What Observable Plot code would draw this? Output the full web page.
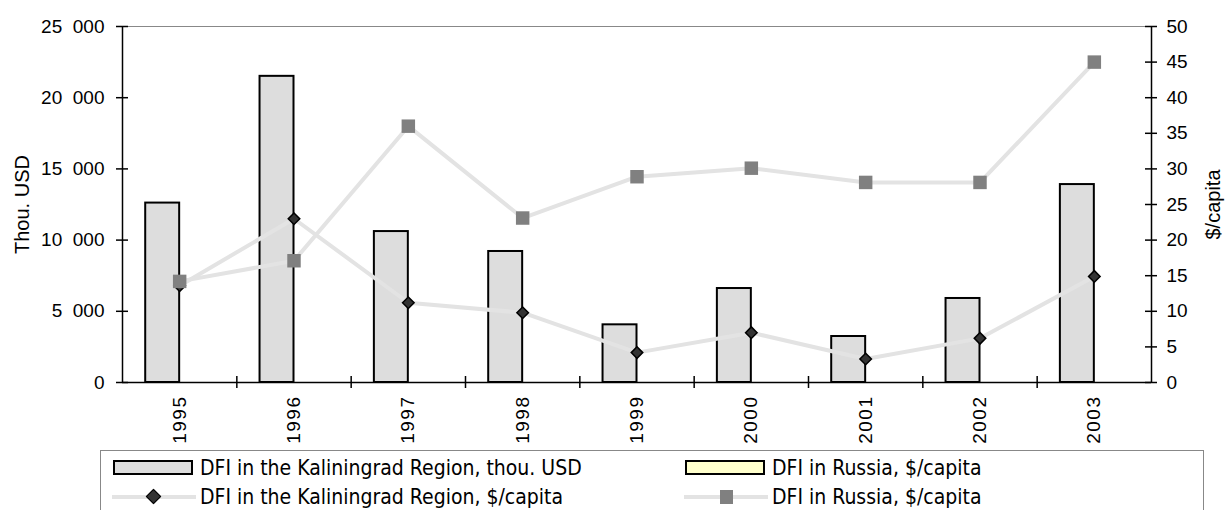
<!DOCTYPE html>
<html>
<head>
<meta charset="utf-8">
<script src="https://cdn.jsdelivr.net/npm/d3@7"></script>
<script src="https://cdn.jsdelivr.net/npm/@observablehq/plot@0.6"></script>
<style>
  html, body { margin: 0; padding: 0; background: #fff; overflow: hidden; }
  #wrap { position: relative; width: 1225px; height: 510px; }
  #chart svg { display: block; }
  [aria-label="x-axis tick label"] text { letter-spacing: 1.5px; }
  .legend-box { position: absolute; left: 100px; top: 450px; width: 1104px; height: 90px;
    border: 1px solid #888; box-sizing: border-box; }
  .item { position: absolute; height: 28px; display: flex; align-items: center;
    font-family: "Liberation Sans Narrow", "Arial Narrow", "DejaVu Sans Condensed", sans-serif;
    font-size: 21px; color: #000; white-space: nowrap; }
  .sym { position: relative; width: 84px; height: 28px; margin-right: 4px; flex: none; }
  .box { position: absolute; left: 1px; top: 6px; width: 80px; height: 15px; box-sizing: border-box; border: 2px solid #000; }
  .ln { position: absolute; left: 0; top: 12px; width: 84px; height: 4px; background: #e3e3e3; }
  .dia { position: absolute; left: 36px; top: 8px; width: 9px; height: 9px; background: #333; border: 1.5px solid #000; transform: rotate(45deg); }
  .sq { position: absolute; left: 36px; top: 7px; width: 13px; height: 14px; background: #808080; }
</style>
</head>
<body>
<div id="wrap">
  <div id="chart"></div>
  <div class="legend-box"></div>
  <div class="item" style="left:112px; top:454px;"><div class="sym"><div class="box" style="background:#dddddd"></div></div>DFI in the Kaliningrad Region, thou. USD</div>
  <div class="item" style="left:684px; top:454px;"><div class="sym"><div class="box" style="background:#ffffcc"></div></div>DFI in Russia, $/capita</div>
  <div class="item" style="left:112px; top:483px;"><div class="sym"><div class="ln"></div><div class="dia"></div></div>DFI in the Kaliningrad Region, $/capita</div>
  <div class="item" style="left:684px; top:483px;"><div class="sym"><div class="ln"></div><div class="sq"></div></div>DFI in Russia, $/capita</div>
</div>
<script>
// ---- data ----
const years = [1995, 1996, 1997, 1998, 1999, 2000, 2001, 2002, 2003];
const kalUSD = [12600, 21500, 10600, 9200, 4050, 6600, 3230, 5900, 13900];      // thou. USD (left axis)
const kalCapita = [13.6, 23.0, 11.2, 9.8, 4.2, 7.0, 3.3, 6.2, 14.9];             // $/capita (right axis)
const rusCapita = [14.2, 17.1, 36.0, 23.1, 28.9, 30.1, 28.1, 28.1, 45.0];        // $/capita (right axis)
const leftTicks = [0, 5000, 10000, 15000, 20000, 25000];
const rightTicks = [0, 5, 10, 15, 20, 25, 30, 35, 40, 45, 50];

// secondary axis mapping: 50 $/capita == 25 000 thou. USD
const k = 25000 / 50;

const bars = years.map((y, i) => ({year: y, value: kalUSD[i]}));
const kal = years.map((y, i) => ({year: y, value: kalCapita[i] * k}));
const rus = years.map((y, i) => ({year: y, value: rusCapita[i] * k}));
const bounds = years.slice(1).map(y => y - 0.5);
const fmt = d => d3.format(",")(d).replace(/,/g, "\u2007");

const plot = Plot.plot({
  width: 1225,
  height: 450,
  marginLeft: 122,
  marginRight: 74,
  marginTop: 26,
  marginBottom: 68,
  style: {fontSize: "19px", fontFamily: "'Liberation Sans', Arial, sans-serif", background: "#fff", color: "#000"},
  x: {domain: [years[0] - 0.5, years[years.length - 1] + 0.5], label: null},
  y: {domain: [0, 25000], label: null},
  marks: [
    Plot.frame({stroke: "#888", strokeWidth: 1}),
    Plot.rectY(bars, {x1: d => d.year - 0.297, x2: d => d.year, y1: 0, y2: "value", fill: "#dddddd", stroke: "#000", strokeWidth: 2}),
    // axes lines
    Plot.ruleY([0], {stroke: "#000", strokeWidth: 1.5}),
    Plot.ruleX([years[0] - 0.5, years[years.length - 1] + 0.5], {stroke: "#000", strokeWidth: 1.5}),
    // crossing ticks
    Plot.ruleX(bounds, {x: d => d, y1: 0, y2: 0, insetTop: -6, insetBottom: -6, stroke: "#000", strokeWidth: 1.5}),
    Plot.ruleY(leftTicks, {y: d => d, x1: years[0] - 0.5, x2: years[0] - 0.5, insetLeft: -6, insetRight: -6, stroke: "#000", strokeWidth: 1.5}),
    Plot.ruleY(rightTicks.map(d => d * k), {y: d => d, x1: years[years.length - 1] + 0.5, x2: years[years.length - 1] + 0.5, insetLeft: -6, insetRight: -6, stroke: "#000", strokeWidth: 1.5}),
    // lines
    Plot.line(kal, {x: "year", y: "value", stroke: "#e3e3e3", strokeWidth: 4}),
    Plot.dot(kal, {x: "year", y: "value", symbol: "diamond2", r: 5.2, fill: "#333", stroke: "#000", strokeWidth: 1.5}),
    Plot.line(rus, {x: "year", y: "value", stroke: "#e3e3e3", strokeWidth: 4}),
    Plot.dot(rus, {x: "year", y: "value", symbol: "square", r: 7.6, fill: "#808080", stroke: "none"}),
    // axes labels
    Plot.axisY({anchor: "left", ticks: leftTicks, tickSize: 0, tickPadding: 18, tickFormat: fmt, label: null}),
    Plot.axisY({anchor: "right", ticks: rightTicks.map(d => d * k), tickSize: 0, tickPadding: 15, tickFormat: d => String(d / k), label: null}),
    Plot.axisX({ticks: years, tickSize: 0, tickPadding: 13, tickRotate: -90, tickFormat: d => String(d), label: null}),
    Plot.text(["Thou. USD"], {frameAnchor: "left", dx: -100, rotate: -90, textAnchor: "middle", text: d => d, fontSize: 20}),
    Plot.text(["$/capita"], {frameAnchor: "right", dx: 62, rotate: -90, textAnchor: "middle", text: d => d, fontSize: 20})
  ]
});
document.getElementById("chart").appendChild(plot);
</script>
</body>
</html>
